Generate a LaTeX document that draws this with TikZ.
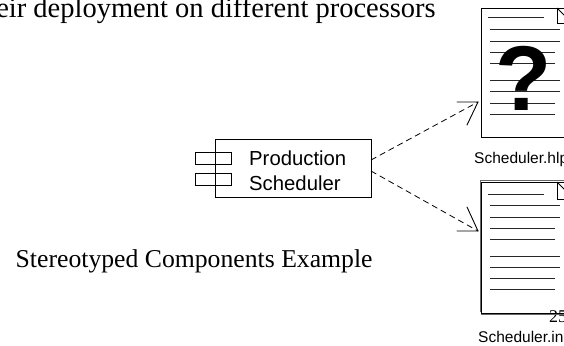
\documentclass[tikz,border=0pt]{standalone}
\usepackage{fontspec}
\setmainfont{Liberation Serif}
\setsansfont{Liberation Sans}
\usetikzlibrary{arrows.meta}
\tikzset{
  x=1pt,y=-1pt,
  ln/.style={draw=black,line width=0.9pt},
  textline/.style={draw=black!85,line width=0.9pt},
  compbox/.style={draw=black,line width=0.9pt,fill=white,rectangle,inner sep=0pt,minimum width=156pt,minimum height=58pt},
  portbox/.style={draw=black,line width=0.9pt,rectangle,inner sep=0pt,minimum width=36pt,minimum height=12pt},
  pagebox/.style={draw=black,line width=1pt,rectangle,inner sep=0pt,anchor=north west},
  serifcap/.style={font=\rmfamily\fontsize{25.7}{28}\selectfont,inner sep=0pt},
  seriftitle/.style={font=\rmfamily\fontsize{28.5}{30}\selectfont,inner sep=0pt},
  sanscap/.style={font=\sffamily\fontsize{15.5}{18}\selectfont,inner sep=0pt},
  complabel/.style={font=\sffamily\fontsize{20.3}{25}\selectfont,inner sep=0pt,align=left,anchor=west},
  depend/.style={dashed,dash pattern=on 6pt off 4pt,line width=0.8pt},
  openhead/.style={line width=0.9pt,line cap=round}
}
\begin{document}
\begin{tikzpicture}
\useasboundingbox (0,0) rectangle (564,345);
\clip (0,0) rectangle (564,345);
% title
\node[seriftitle,anchor=base east] (title) at (436,18) {their deployment on different processors};
\node[serifcap,anchor=base west] (caption) at (15.5,267) {Stereotyped Components Example};
% component
\node[compbox] (comp) at (293,168) {};
\node[portbox] (p1) at (213,158) {};
\node[portbox] (p2) at (213,179) {};
\node[complabel] (complabel) at (249,170.5) {Production\\Scheduler};
% help document
\node[pagebox,minimum width=100pt,minimum height=129pt] (hlp) at (481,8) {};
\draw[ln] (557,8) -- (557,23) -- (570,23);
\draw[ln] (557,8) -- (570,21);
\foreach \y/\a/\b in {17/488/544,29/490/560,41/490/560,52/490/555,63/490/555,80/490/560,91/490/560,103/490/555,114/490/555}
  \draw[textline] (\a,\y) -- (\b,\y);
\node[font=\sffamily\bfseries\fontsize{92}{92}\selectfont,inner sep=0pt] (qm) at (524,78) {?};
\node[sanscap,anchor=base west] (hlpname) at (474,163) {Scheduler.hlp};
% ini document
\node[font=\rmfamily\fontsize{18}{20}\selectfont,inner sep=0pt,anchor=base west] (num) at (549,322) {25};
\draw[line width=0.8pt,black!60] (480,312) -- (480,180.5) -- (570,180.5);
\node[pagebox,minimum width=100pt,minimum height=131pt] (ini) at (481,182) {};
\draw[line width=1pt,black!60] (481,314.5) -- (570,314.5);
\draw[ln] (557,182) -- (557,199) -- (570,199);
\draw[ln] (557,182) -- (570,195);
\foreach \y/\a/\b in {194/488/544,205/490/560,217/490/560,228/490/555,239/490/555,256/490/560,267/490/560,278/490/555,289/490/555}
  \draw[textline] (\a,\y) -- (\b,\y);
\node[sanscap,anchor=base west] (ininame) at (478,342) {Scheduler.in};
% connectors
\coordinate (tipa) at (478,102);
\coordinate (tipb) at (478,231);
\coordinate (compa) at (371,160);
\coordinate (compb) at (371,171);
\draw[depend] (compa) -- (tipa);
\draw[depend] (compb) -- (tipb);
\draw[openhead] (457,102) -- (tipa) -- (467,125);
\draw[openhead] (457,231) -- (tipb) -- (467,207);
\end{tikzpicture}
\end{document}
